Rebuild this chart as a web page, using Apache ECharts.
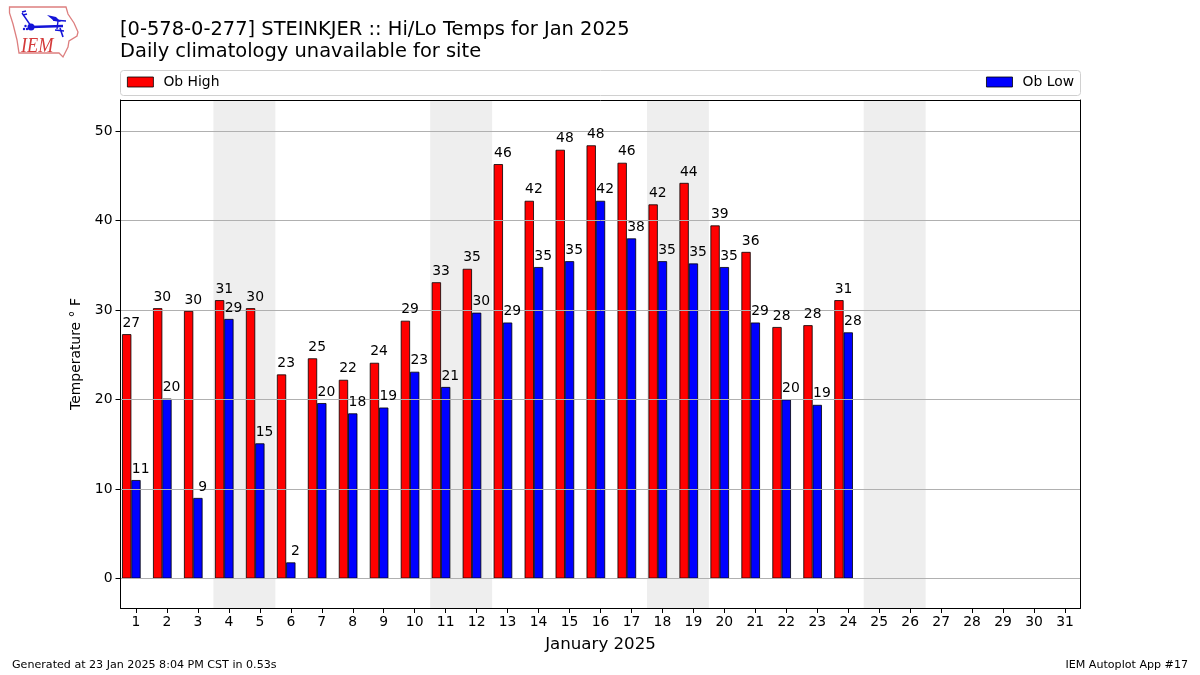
<!DOCTYPE html>
<html>
<head>
<meta charset="utf-8">
<style>html,body{margin:0;padding:0;background:#fff}</style>
<script src="https://cdn.jsdelivr.net/npm/echarts@6/dist/echarts.min.js"></script>
</head>
<body>
<div id="main" style="width:1200px;height:675px;"></div>
<script>
var days = ['1','2','3','4','5','6','7','8','9','10','11','12','13','14','15','16','17','18','19','20','21','22','23','24','25','26','27','28','29','30','31'];
var obHigh = [27.3,30.2,29.9,31.1,30.2,22.8,24.6,22.2,24.1,28.8,33.1,34.6,46.3,42.2,47.9,48.4,46.45,41.8,44.2,39.45,36.49,28.1,28.3,31.1];
var obLow = [11,20.1,9,29,15.1,1.8,19.6,18.45,19.1,23.1,21.4,29.7,28.6,34.8,35.45,42.2,38,35.45,35.2,34.8,28.6,20,19.4,27.5];
var weekends = [[3.5,5.5],[10.5,12.5],[17.5,19.5],[24.5,26.5]];
var yTicks = [0,10,20,30,40,50];

var font = 'DejaVu Sans';
var myChart = echarts.init(document.getElementById('main'));

// labels sit above the grid lines, the bars sit below them, so the labels get their own series
function labelSeries(name, values, shift) {
  return {
    name: name,
    type: 'custom',
    silent: true,
    z: 5,
    clip: false,
    data: values.map(function (v, i) { return [i, v]; }),
    encode: {x: 0, y: 1},
    renderItem: function (params, api) {
      var pt = api.coord([api.value(0), api.value(1)]);
      var band = api.size([1, 0])[0];
      return {
        type: 'text',
        style: {
          x: pt[0] + shift * band,
          y: pt[1] - 4,
          text: String(Math.round(api.value(1))),
          align: 'center',
          verticalAlign: 'bottom',
          font: '13.9px "DejaVu Sans"',
          fill: '#000'
        }
      };
    }
  };
}

var option = {
  animation: false,
  textStyle: {fontFamily: font},
  title: [
    {
      text: '[0-578-0-277] STEINKJER :: Hi/Lo Temps for Jan 2025\nDaily climatology unavailable for site',
      left: 120, top: 19, padding: 0,
      textStyle: {fontFamily: font, fontSize: 19.45, fontWeight: 'normal', color: '#000', lineHeight: 22}
    },
    {
      text: 'Generated at 23 Jan 2025 8:04 PM CST in 0.53s',
      left: 12, top: 660, padding: 0,
      textStyle: {fontFamily: font, fontSize: 11.1, fontWeight: 'normal', color: '#000'}
    },
    {
      text: 'IEM Autoplot App #17',
      right: 12, top: 660, padding: 0,
      textStyle: {fontFamily: font, fontSize: 11.1, fontWeight: 'normal', color: '#000'}
    }
  ],
  legend: [
    {
      data: [{name: 'Ob High', icon: 'rect'}], left: 127, top: 75, padding: 0,
      itemWidth: 26, itemHeight: 10,
      itemStyle: {borderWidth: 0.8},
      textStyle: {fontFamily: font, fontSize: 13.9, color: '#000', padding: [0, 0, 0, 5]}
    },
    {
      data: [{name: 'Ob Low', icon: 'rect'}], right: 126, top: 75, padding: 0,
      itemWidth: 26, itemHeight: 10,
      itemStyle: {borderWidth: 0.8},
      textStyle: {fontFamily: font, fontSize: 13.9, color: '#000', padding: [0, 0, 0, 5]}
    }
  ],
  grid: {left: 120.5, top: 100, width: 960, height: 508, show: false},
  xAxis: [
    {
      type: 'category',
      data: days,
      z: 4,
      name: 'January 2025',
      nameLocation: 'middle',
      nameGap: 28,
      nameTextStyle: {fontFamily: font, fontSize: 16.65, color: '#000'},
      axisLine: {onZero: false, lineStyle: {color: '#000', width: 1}},
      axisTick: {show: true, alignWithLabel: true, length: 5, lineStyle: {color: '#000'}},
      axisLabel: {interval: 0, margin: 7, fontFamily: font, fontSize: 13.9, color: '#000'},
      splitLine: {show: false}
    },
    {
      type: 'value',
      position: 'top',
      min: 0.5, max: 31.5,
      z: 4,
      axisLine: {show: true, onZero: false, lineStyle: {color: '#000', width: 1}},
      axisTick: {show: false},
      axisLabel: {show: false},
      splitLine: {show: false}
    }
  ],
  yAxis: [
    {
      type: 'value',
      min: -3.296, max: 53.464,
      z: 3,
      name: 'Temperature ° F',
      nameLocation: 'middle',
      nameGap: 37,
      nameRotate: 90,
      nameTextStyle: {fontFamily: font, fontSize: 13.9, color: '#000'},
      axisLine: {show: true, onZero: false, lineStyle: {color: '#000', width: 1}},
      axisTick: {show: true, length: 5, lineStyle: {color: '#000'}, customValues: yTicks},
      axisLabel: {margin: 8, padding: [4, 0, 0, 0], fontFamily: font, fontSize: 13.9, color: '#000', customValues: yTicks},
      splitLine: {show: true, lineStyle: {color: '#b0b0b0', width: 1}}
    },
    {
      type: 'value',
      position: 'right',
      min: -3.296, max: 53.464,
      z: 4,
      axisLine: {show: true, onZero: false, lineStyle: {color: '#000', width: 1}},
      axisTick: {show: false},
      axisLabel: {show: false},
      splitLine: {show: false}
    }
  ],
  series: [
    {
      name: 'Ob High', type: 'bar', data: obHigh,
      barWidth: '30%', barGap: 0, z: 2,
      itemStyle: {color: '#ff0000', borderColor: '#000', borderWidth: 0.8}
    },
    {
      name: 'Ob Low', type: 'bar', data: obLow,
      barWidth: '30%', barGap: 0, z: 2,
      itemStyle: {color: '#0000ff', borderColor: '#000', borderWidth: 0.8}
    },
    // empty slot, keeps the blue bar centred on its tick like the original
    {name: 'spacer', type: 'bar', data: [], barWidth: '30%', barGap: 0},
    labelSeries('high labels', obHigh, -0.15),
    labelSeries('low labels', obLow, 0.15),
    {
      name: 'weekends', type: 'line', xAxisIndex: 1, data: [], z: 1,
      markArea: {
        silent: true,
        itemStyle: {color: '#eeeeee'},
        data: weekends.map(function (w) { return [{xAxis: w[0]}, {xAxis: w[1]}]; })
      }
    }
  ],
  graphic: [
    {
      type: 'rect', z: -1, silent: true,
      shape: {x: 120.5, y: 70.5, width: 960, height: 25, r: 3},
      style: {fill: '#fff', stroke: '#d0d0d0', lineWidth: 1}
    },
    // IEM logo, traced by hand
    {
      type: 'group', silent: true,
      children: [
        {type: 'polygon', shape: {points: [[9.5,7],[66,7],[68,14],[74,23],[78,32],[77,36],[69,41],[68,47],[63,57],[59,53],[19,53],[17,40],[13,24],[9.5,13]]},
          style: {fill: '#fff', stroke: '#dd7f7f', lineWidth: 1.3}},
        {type: 'text', x: 21, y: 57, scaleX: 0.87, style: {x: 0, y: 0, text: 'IEM', verticalAlign: 'bottom', font: 'italic 21px "Liberation Serif"', fill: '#d43a3a'}},
        {type: 'line', shape: {x1: 31, y1: 27, x2: 63, y2: 26}, style: {stroke: '#1414d8', lineWidth: 2.5}},
        {type: 'line', shape: {x1: 22, y1: 13, x2: 31, y2: 26}, style: {stroke: '#1414d8', lineWidth: 1.4}},
        {type: 'line', shape: {x1: 22, y1: 12, x2: 26, y2: 11}, style: {stroke: '#1414d8', lineWidth: 1.4}},
        {type: 'line', shape: {x1: 23, y1: 15, x2: 27, y2: 14}, style: {stroke: '#1414d8', lineWidth: 1.4}},
        {type: 'circle', shape: {cx: 31, cy: 27, r: 3.5}, style: {fill: '#1414d8'}},
        {type: 'polygon', shape: {points: [[47,15],[56,17],[61,22],[54,21]]}, style: {fill: '#1414d8'}},
        {type: 'line', shape: {x1: 53, y1: 20, x2: 66, y2: 21}, style: {stroke: '#1414d8', lineWidth: 1.4}},
        {type: 'line', shape: {x1: 58, y1: 21, x2: 57, y2: 29}, style: {stroke: '#1414d8', lineWidth: 1.4}},
        {type: 'line', shape: {x1: 60, y1: 28, x2: 63, y2: 37}, style: {stroke: '#1414d8', lineWidth: 1.6}},
        {type: 'line', shape: {x1: 55, y1: 30, x2: 64, y2: 31}, style: {stroke: '#1414d8', lineWidth: 1.4}},
        {type: 'circle', shape: {cx: 24, cy: 29, r: 1.2}, style: {fill: '#1414d8'}},
        {type: 'circle', shape: {cx: 27, cy: 29, r: 1.2}, style: {fill: '#1414d8'}},
        {type: 'circle', shape: {cx: 25.5, cy: 26, r: 1.2}, style: {fill: '#1414d8'}}
      ]
    }
  ]
};
myChart.setOption(option);
</script>
</body>
</html>
